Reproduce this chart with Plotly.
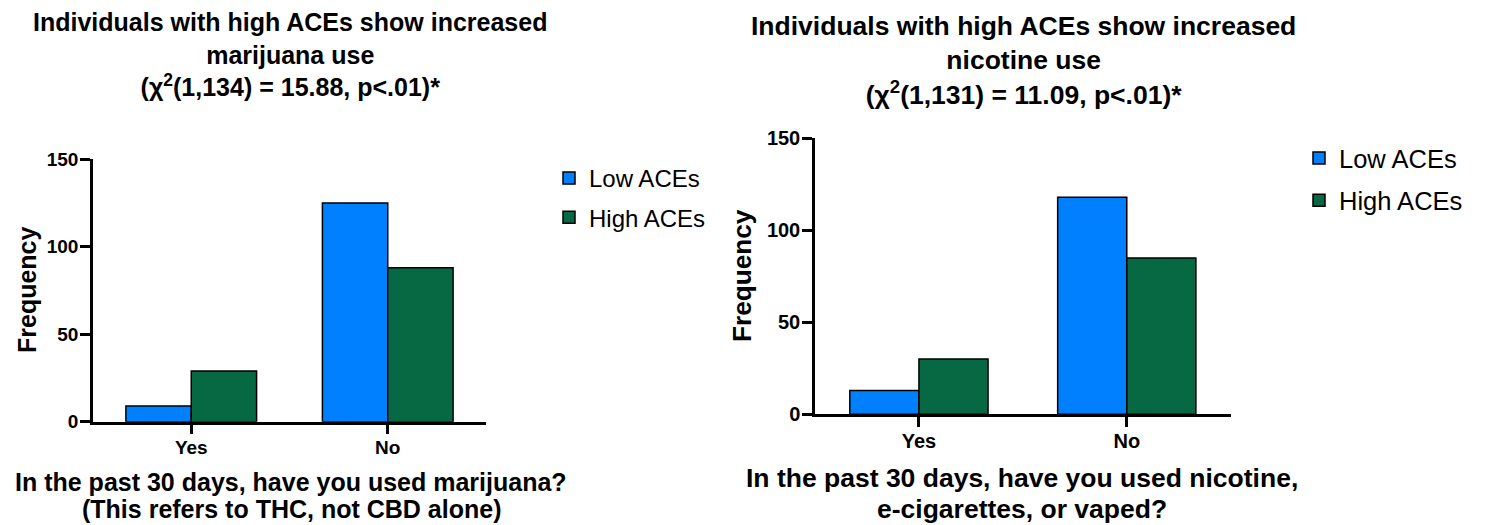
import plotly.graph_objects as go

# ---- data ----
categories = ["Yes", "No"]
series_names = ["Low ACEs", "High ACEs"]
marijuana_low = [9, 125]
marijuana_high = [29, 88]
nicotine_low = [13, 118]
nicotine_high = [30, 85]
y_ticks = [0, 50, 100, 150]

left_title = "Individuals with high ACEs show increased<br>marijuana use<br>(χ<sup>2</sup>(1,134) = 15.88, p&lt;.01)*"
right_title = "Individuals with high ACEs show increased<br>nicotine use<br>(χ<sup>2</sup>(1,131) = 11.09, p&lt;.01)*"
left_xtitle_lines = ["In the past 30 days, have you used marijuana?", "(This refers to THC, not CBD alone)"]
right_xtitle_lines = ["In the past 30 days, have you used nicotine,", "e-cigarettes, or vaped?"]
ytitle = "Frequency"

BLUE = "#0080FF"
GREEN = "#066943"
FONT = "Liberation Sans, Arial, sans-serif"

W, H = 1486, 525

fig = go.Figure()

def add_bars(lows, highs, xa, ya, legend):
    for name, vals, col in [(series_names[0], lows, BLUE), (series_names[1], highs, GREEN)]:
        fig.add_trace(go.Bar(
            x=categories, y=vals, name=name, xaxis=xa, yaxis=ya,
            marker=dict(color=col, line=dict(color="black", width=1.5)),
            legend=legend, legendgroup=legend + name,
        ))

add_bars(marijuana_low, marijuana_high, "x", "y", "legend")
add_bars(nicotine_low, nicotine_high, "x2", "y2", "legend2")

def px_x(p):
    return p / W

def px_y(p):
    return (H - p) / H

axis_common = dict(showline=True, linecolor="black", linewidth=2.5, ticks="outside",
                   ticklen=10, tickwidth=2.5, tickcolor="black", showgrid=False,
                   zeroline=False, fixedrange=True, automargin=False)

fig.update_layout(
    template="none",
    width=W, height=H,
    margin=dict(l=0, r=0, t=0, b=0, pad=0, autoexpand=False),
    paper_bgcolor="white", plot_bgcolor="white",
    barmode="group", bargap=0.335, bargroupgap=0,
    font=dict(family=FONT, color="black"),
    xaxis=dict(domain=[px_x(93), px_x(486)], anchor="y", type="category",
               categoryorder="array", categoryarray=categories, range=[-0.5, 1.5],
               ticklabelstandoff=-3,
               tickfont=dict(size=19, family=FONT, weight="bold"), **axis_common),
    yaxis=dict(domain=[px_y(421.7), px_y(159.3)], anchor="x", range=[0, 150],
               tickvals=y_ticks, ticklabelstandoff=-2,
               tickfont=dict(size=19, family=FONT, weight="bold"), **axis_common),
    xaxis2=dict(domain=[px_x(815), px_x(1230.7)], anchor="y2", type="category",
                categoryorder="array", categoryarray=categories, range=[-0.5, 1.5],
                ticklabelstandoff=-3,
                tickfont=dict(size=20, family=FONT, weight="bold"), **axis_common),
    yaxis2=dict(domain=[px_y(414.3), px_y(138.3)], anchor="x2", range=[0, 150],
                tickvals=y_ticks, ticklabelstandoff=-2,
                tickfont=dict(size=20, family=FONT, weight="bold"), **axis_common),
    legend=dict(x=px_x(549), y=px_y(156), xanchor="left", yanchor="top",
                font=dict(size=24, family=FONT), traceorder="grouped", tracegroupgap=5,
                bgcolor="rgba(0,0,0,0)"),
    legend2=dict(x=px_x(1299), y=px_y(135), xanchor="left", yanchor="top",
                 font=dict(size=25.5, family=FONT), traceorder="grouped", tracegroupgap=6,
                 bgcolor="rgba(0,0,0,0)"),
)

def ann(text, x, y, size, angle=0):
    return dict(text=text, x=px_x(x), y=px_y(y), xref="paper", yref="paper",
                xanchor="center", yanchor="middle", showarrow=False, textangle=angle,
                font=dict(size=size, family=FONT, weight="bold"))

annotations = [
    ann(left_title, 289.5, 55, 25),
    ann(right_title, 1023, 61, 26.5),
    ann(left_xtitle_lines[0], 291, 482, 25),
    ann(left_xtitle_lines[1], 291, 509, 25),
    ann(right_xtitle_lines[0], 1022, 478, 26.5),
    ann(right_xtitle_lines[1], 1022, 509, 26.5),
    ann(ytitle, 27, 290, 25, -90),
    ann(ytitle, 742, 276, 26.2, -90),
]
fig.update_layout(annotations=annotations)

fig.write_html("out.html")
